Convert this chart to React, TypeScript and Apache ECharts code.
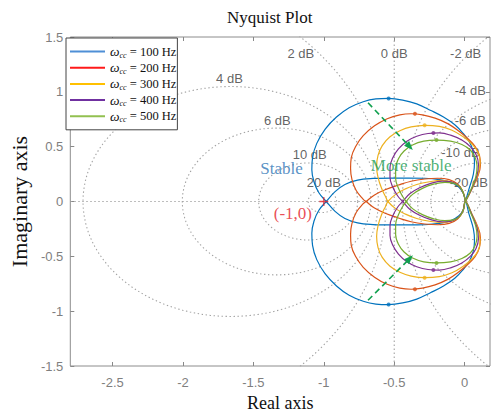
import React, { useEffect, useRef } from "react";
import * as echarts from "echarts";

// ---------------- data ----------------
const frequencies = ["100 Hz", "200 Hz", "300 Hz", "400 Hz", "500 Hz"];
const curveColors = ["#0072BD", "#D95319", "#EDB120", "#7E2F8E", "#77AC30"];
const legendColors = ["#4F8FD6", "#FF1A1A", "#FFC000", "#7030A0", "#92C050"];

const xTicks = [-2.5, -2, -1.5, -1, -0.5, 0];
const yTicks = [-1.5, -1, -0.5, 0, 0.5, 1, 1.5];

// M-circle levels of the Nyquist grid (dB); 0 dB is the vertical line Re = -0.5
const dbLevels = [20, 10, 6, 4, 2, -2, -4, -6, -10, -20];
const dbLabelTexts = ["2 dB", "0 dB", "-2 dB", "-4 dB", "-6 dB", "4 dB", "6 dB", "10 dB", "-10 dB", "20 dB", "-20 dB"];

// upper half of each Nyquist curve: outer arc and inner branch
const outer100 = [[0.005, 0], [0.03, 0.11], [0.062, 0.25], [0.07, 0.36], [0.06, 0.46], [0.035, 0.54], [-0.01, 0.62], [-0.07, 0.7], [-0.15, 0.77], [-0.24, 0.83], [-0.34, 0.89], [-0.44, 0.925], [-0.54, 0.94], [-0.63, 0.935], [-0.72, 0.91], [-0.82, 0.855], [-0.91, 0.77], [-0.99, 0.66], [-1.05, 0.53], [-1.08, 0.4], [-1.085, 0.29], [-1.07, 0.18], [-1.035, 0.08], [-0.983, 0]];
const inner100 = [[-0.983, 0], [-0.92, 0.09], [-0.85, 0.155], [-0.76, 0.195], [-0.65, 0.21], [-0.52, 0.214], [-0.4, 0.214], [-0.284, 0.212], [-0.18, 0.2], [-0.1, 0.175], [-0.04, 0.13], [-0.008, 0.07], [0.005, 0]];

const outer200 = [[0.005, 0], [0.045, 0.1], [0.09, 0.22], [0.112, 0.33], [0.105, 0.42], [0.075, 0.5], [0.025, 0.57], [-0.04, 0.64], [-0.12, 0.71], [-0.21, 0.76], [-0.3, 0.79], [-0.38, 0.8], [-0.46, 0.79], [-0.55, 0.755], [-0.64, 0.69], [-0.72, 0.6], [-0.775, 0.5], [-0.805, 0.4], [-0.81, 0.3], [-0.8, 0.2], [-0.77, 0.1], [-0.72, 0.02], [-0.7, 0]];
const inner200 = [[-0.7, 0], [-0.64, 0.06], [-0.56, 0.11], [-0.47, 0.15], [-0.38, 0.185], [-0.284, 0.205], [-0.19, 0.212], [-0.11, 0.2], [-0.05, 0.16], [-0.012, 0.09], [0.005, 0]];

const outer300 = [[0.005, 0], [0.05, 0.11], [0.095, 0.25], [0.11, 0.36], [0.095, 0.45], [0.055, 0.52], [-0.01, 0.59], [-0.09, 0.65], [-0.18, 0.685], [-0.284, 0.695], [-0.38, 0.68], [-0.46, 0.645], [-0.53, 0.59], [-0.585, 0.51], [-0.615, 0.42], [-0.625, 0.32], [-0.615, 0.22], [-0.59, 0.12], [-0.56, 0.04], [-0.545, 0]];
const inner300 = [[-0.545, 0], [-0.49, 0.065], [-0.42, 0.115], [-0.34, 0.155], [-0.25, 0.18], [-0.16, 0.192], [-0.09, 0.178], [-0.04, 0.14], [-0.01, 0.08], [0.005, 0]];

const outer400 = [[0.005, 0], [0.048, 0.11], [0.088, 0.24], [0.098, 0.34], [0.08, 0.43], [0.04, 0.5], [-0.02, 0.56], [-0.1, 0.605], [-0.18, 0.625], [-0.26, 0.62], [-0.34, 0.595], [-0.41, 0.55], [-0.47, 0.48], [-0.51, 0.4], [-0.53, 0.31], [-0.53, 0.22], [-0.51, 0.13], [-0.475, 0.05], [-0.44, 0]];
const inner400 = [[-0.44, 0], [-0.39, 0.07], [-0.32, 0.125], [-0.24, 0.165], [-0.16, 0.185], [-0.095, 0.18], [-0.045, 0.145], [-0.012, 0.085], [0.005, 0]];

const outer500 = [[0.005, 0], [0.042, 0.1], [0.078, 0.22], [0.088, 0.32], [0.075, 0.4], [0.04, 0.47], [-0.02, 0.52], [-0.1, 0.55], [-0.2, 0.56], [-0.29, 0.55], [-0.37, 0.515], [-0.43, 0.46], [-0.47, 0.39], [-0.49, 0.3], [-0.49, 0.21], [-0.47, 0.12], [-0.44, 0.045], [-0.415, 0]];
const inner500 = [[-0.415, 0], [-0.37, 0.065], [-0.3, 0.12], [-0.22, 0.158], [-0.14, 0.175], [-0.08, 0.168], [-0.035, 0.135], [-0.01, 0.08], [0.005, 0]];

const outerArcs = [outer100, outer200, outer300, outer400, outer500];
const innerArcs = [inner100, inner200, inner300, inner400, inner500];

// marker dots at the top of each curve
const peakPoints = [[-0.54, 0.94], [-0.353, 0.8], [-0.284, 0.695], [-0.222, 0.624], [-0.2, 0.56]];

const criticalPoint = [-1, 0];
const annotationTexts = ["(-1,0)", "Stable", "More stable"];
const arrowTop = [[-0.686, 0.9], [-0.39, 0.5]];
const arrowBottom = [[-0.686, -0.9], [-0.39, -0.52]];

// ---------------- layout (positions, not data) ----------------
const X_MIN = -2.8;
const X_MAX = 0.18;
const dbLabelAnchors = [
  [-1.163, 1.35], [-0.5, 1.35], [0.007, 1.35], [0.04, 1.01], [0.04, 0.74],
  [-1.67, 1.12], [-1.33, 0.74], [-1.1, 0.43], [-0.03, 0.445], [-1.0, 0.175], [0.03, 0.175],
];
const annotationAnchors = [[-1.22, -0.105], [-1.3, 0.305], [-0.38, 0.325]];
const annotationColors = ["#E4202A", "#2E75B6", "#1E9E55"];

const SERIF = "'Liberation Serif', 'Times New Roman', serif";
const SANS = "'Liberation Sans', Arial, sans-serif";

const conj = (pts: number[][]) => pts.map(([x, y]) => [x, -y]);

function closedPath(outer: number[][], inner: number[][]) {
  // outer (upper) -> inner (lower) -> outer (lower) -> inner (upper)
  return [
    ...outer,
    ...conj(inner).slice(1),
    ...conj(outer).slice(1),
    ...inner.slice(1),
  ];
}

function mCircle(db: number) {
  const m = Math.pow(10, db / 20);
  const m2 = m * m;
  const c = -m2 / (m2 - 1);
  const r = Math.abs(m / (m2 - 1));
  const pts: number[][] = [];
  for (let i = 0; i <= 360; i++) {
    const t = (i / 360) * Math.PI * 2;
    pts.push([c + r * Math.cos(t), r * Math.sin(t)]);
  }
  return pts;
}

function buildOption() {
  const gridLine = {
    color: "#a2a2a2",
    width: 1.1,
    type: [1.4, 2.6] as any,
  };
  const series: any[] = [];

  dbLevels.forEach((db) => {
    series.push({
      type: "line",
      data: mCircle(db),
      showSymbol: false,
      silent: true,
      smooth: false,
      lineStyle: gridLine,
      z: 1,
    });
  });
  // 0 dB line and real axis
  series.push({
    type: "line",
    data: [[-0.5, -1.5], [-0.5, 1.5]],
    showSymbol: false,
    silent: true,
    lineStyle: gridLine,
    z: 1,
  });
  series.push({
    type: "line",
    data: [[X_MIN, 0], [X_MAX, 0]],
    showSymbol: false,
    silent: true,
    lineStyle: gridLine,
    z: 1,
  });

  frequencies.forEach((f, i) => {
    series.push({
      name: f,
      type: "line",
      data: closedPath(outerArcs[i], innerArcs[i]),
      showSymbol: false,
      smooth: 0.4,
      lineStyle: { color: curveColors[i], width: 1.2 },
      itemStyle: { color: curveColors[i] },
      z: 3,
    });
  });

  // dots
  const dots: any[] = [];
  peakPoints.forEach((p, i) => {
    dots.push({ value: p, itemStyle: { color: curveColors[i] } });
    dots.push({ value: [p[0], -p[1]], itemStyle: { color: curveColors[i] } });
  });
  series.push({
    type: "scatter",
    data: dots,
    symbolSize: 4,
    silent: true,
    z: 4,
  });

  // critical point marker
  series.push({
    type: "scatter",
    data: [criticalPoint],
    symbol: "path://M4,0h1.4v4h4v1.4h-4v4h-1.4v-4h-4v-1.4h4z",
    symbolSize: 9,
    itemStyle: { color: "#E4202A" },
    silent: true,
    z: 5,
  });

  // dB labels
  series.push({
    type: "scatter",
    data: dbLabelTexts.map((t, i) => ({ value: dbLabelAnchors[i], name: t })),
    symbolSize: 0,
    silent: true,
    z: 2,
    label: {
      show: true,
      position: "inside",
      formatter: (p: any) => p.name,
      color: "#3a3a3a",
      fontFamily: SANS,
      fontSize: 13,
      align: "center",
      verticalAlign: "middle",
    },
  });

  // annotations + arrows
  series.push({
    type: "scatter",
    data: annotationTexts.map((t, i) => ({
      value: annotationAnchors[i],
      name: t,
      label: { color: annotationColors[i] },
    })),
    symbolSize: 0,
    silent: true,
    z: 6,
    label: {
      show: true,
      position: "inside",
      formatter: (p: any) => p.name,
      fontFamily: SERIF,
      fontSize: 17,
      align: "center",
      verticalAlign: "middle",
    },
    markLine: {
      silent: true,
      symbol: ["none", "triangle"],
      symbolSize: [7, 9],
      label: { show: false },
      lineStyle: { color: "#12A150", type: [6, 4], width: 1.6 },
      data: [
        [{ coord: arrowTop[0] }, { coord: arrowTop[1] }],
        [{ coord: arrowBottom[0] }, { coord: arrowBottom[1] }],
      ],
    },
  });

  const tickStyle = { inside: true, length: 4, lineStyle: { color: "#888" } };
  const noLine = { show: false, onZero: false };

  return {
    animation: false,
    title: {
      text: "Nyquist Plot",
      left: 222,
      top: 4,
      textStyle: { fontFamily: SERIF, fontSize: 17, fontWeight: "normal", color: "#111" },
    },
    grid: {
      left: 60,
      right: 2,
      top: 37,
      bottom: 53,
      show: true,
      borderColor: "#8c8c8c",
      borderWidth: 1,
      backgroundColor: "transparent",
    },
    legend: {
      data: frequencies.map((f, i) => ({
        name: f,
        itemStyle: { color: legendColors[i] },
        lineStyle: { color: legendColors[i] },
      })),
      orient: "vertical",
      left: 66,
      top: 38,
      icon: "rect",
      itemWidth: 35,
      itemHeight: 2,
      itemGap: 1.2,
      padding: [6, 1, 6, 4],
      backgroundColor: "#fff",
      borderColor: "#444",
      borderWidth: 1,
      borderRadius: 0,
      selectedMode: false,
      formatter: (name: string) => `{w|ω}{s|cc}{t| = ${name}}`,
      textStyle: {
        fontFamily: SERIF,
        color: "#111",
        fontSize: 12.5,
        rich: {
          w: { fontFamily: SERIF, fontStyle: "italic", fontSize: 13.5, color: "#111", lineHeight: 16 },
          s: { fontFamily: SERIF, fontStyle: "italic", fontSize: 8, color: "#111", lineHeight: 8, padding: [7, 0, 0, 0] },
          t: { fontFamily: SERIF, fontSize: 12.5, color: "#111", lineHeight: 16 },
        },
      },
    },
    xAxis: [
      {
        type: "value",
        min: X_MIN,
        max: X_MAX,
        position: "bottom",
        name: "Real axis",
        nameLocation: "middle",
        nameGap: 28,
        nameTextStyle: { fontFamily: SERIF, fontSize: 18, color: "#111" },
        axisLine: noLine,
        splitLine: { show: false },
        axisTick: { ...tickStyle, customValues: xTicks },
        axisLabel: {
          customValues: xTicks,
          color: "#7f7f7f",
          fontFamily: SANS,
          fontSize: 13,
          margin: 10,
          formatter: (v: number) => String(v),
        },
      },
      {
        type: "value",
        min: X_MIN,
        max: X_MAX,
        position: "top",
        axisLine: noLine,
        splitLine: { show: false },
        axisTick: { ...tickStyle, customValues: xTicks },
        axisLabel: { show: false, customValues: xTicks },
      },
    ],
    yAxis: [
      {
        type: "value",
        min: -1.5,
        max: 1.5,
        interval: 0.5,
        position: "left",
        name: "Imaginary axis",
        nameLocation: "middle",
        nameGap: 29,
        nameRotate: 90,
        nameTextStyle: { fontFamily: SERIF, fontSize: 22, color: "#111" },
        axisLine: noLine,
        splitLine: { show: false },
        axisTick: tickStyle,
        axisLabel: {
          color: "#7f7f7f",
          fontFamily: SANS,
          fontSize: 13,
          margin: 7,
          formatter: (v: number) => String(v),
        },
      },
      {
        type: "value",
        min: -1.5,
        max: 1.5,
        interval: 0.5,
        position: "right",
        axisLine: noLine,
        splitLine: { show: false },
        axisTick: tickStyle,
        axisLabel: { show: false },
      },
    ],
    series,
  };
}

export default function App() {
  const ref = useRef<HTMLDivElement>(null);
  useEffect(() => {
    document.body.style.margin = "0";
    const chart = echarts.init(ref.current!, null, { renderer: "svg" });
    chart.setOption(buildOption() as any);
    return () => chart.dispose();
  }, []);
  return <div ref={ref} style={{ width: 492, height: 419 }} />;
}
